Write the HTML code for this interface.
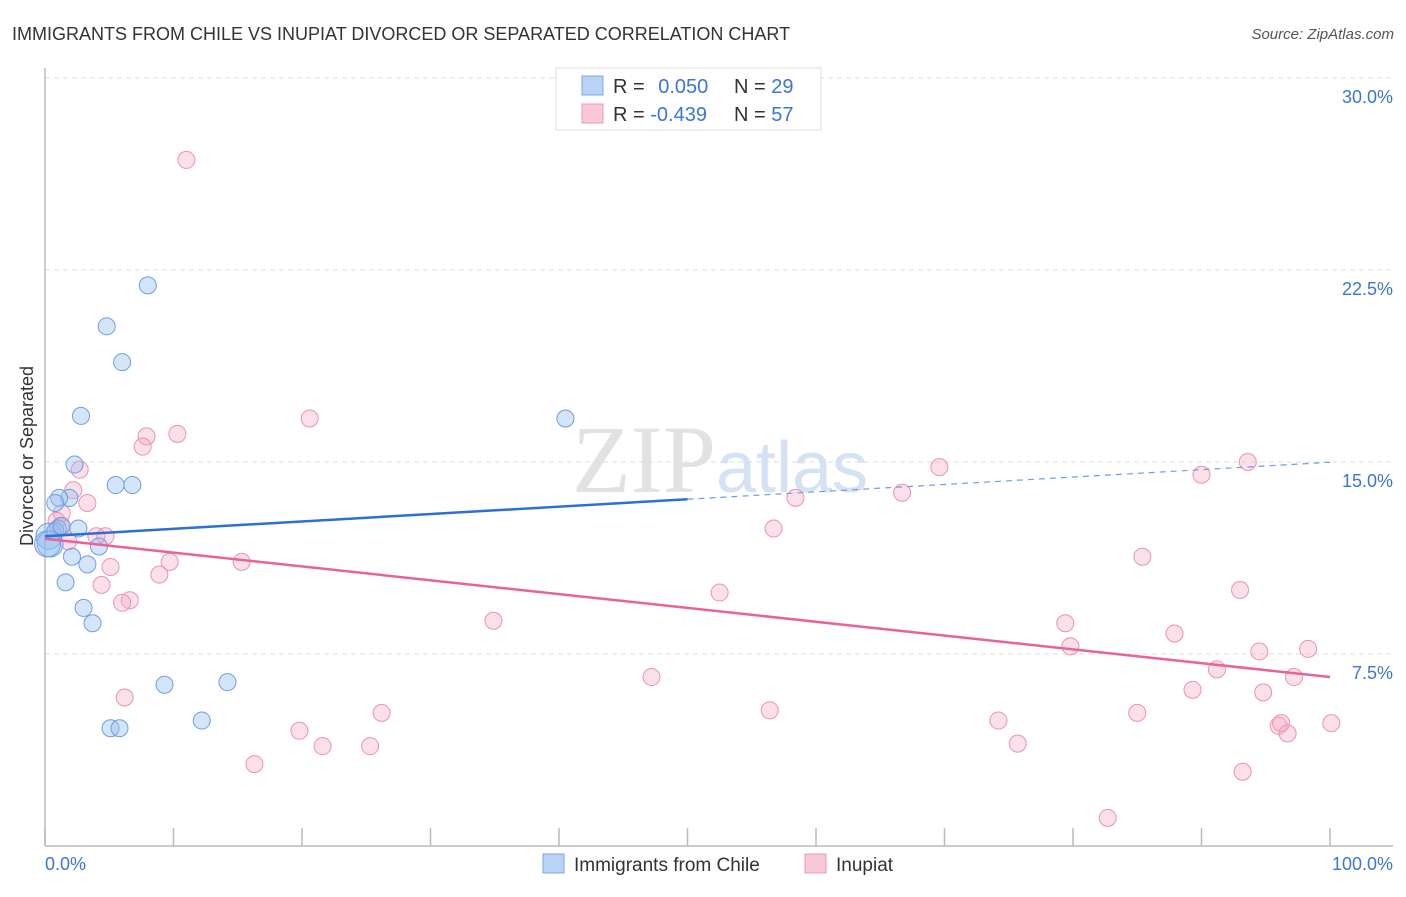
<!DOCTYPE html>
<html><head><meta charset="utf-8"><style>
body{margin:0;background:#fff;font-family:"Liberation Sans",sans-serif}
svg text{font-family:"Liberation Sans",sans-serif}
</style></head><body>
<svg id="chart" width="1406" height="892" xmlns="http://www.w3.org/2000/svg">
<text x="12" y="40" font-size="18" fill="#333">IMMIGRANTS FROM CHILE VS INUPIAT DIVORCED OR SEPARATED CORRELATION CHART</text>
<text x="1394" y="39" font-size="15" fill="#555" font-style="italic" text-anchor="end">Source: ZipAtlas.com</text>
<text x="33" y="456" font-size="18" fill="#333" text-anchor="middle" transform="rotate(-90 33 456)">Divorced or Separated</text>
<text x="720" y="492" font-size="96" fill="#e2e2e2" text-anchor="middle" font-family="Liberation Serif"><tspan font-family="Liberation Serif">ZIP</tspan><tspan fill="#d4e2f4" font-size="72" font-family="Liberation Sans">atlas</tspan></text>
<g id="grid"></g><g id="axes"></g><g id="pts"></g><g id="trend"></g>
<g>
<rect x="556" y="68" width="265" height="62" fill="#fff" stroke="#ddd"/>
<rect x="582" y="76" width="21" height="19" fill="#b8d3f5" stroke="#7aa7e6"/>
<rect x="582" y="104" width="21" height="19" fill="#f9c8d7" stroke="#eb9ab5"/>
<text x="613" y="93" font-size="20" fill="#333">R = <tspan fill="#3a76d6" dx="8">0.050</tspan></text>
<text x="734" y="93" font-size="20" fill="#333">N = <tspan fill="#3a76d6">29</tspan></text>
<text x="613" y="121" font-size="20" fill="#333">R = <tspan fill="#3a76d6">-0.439</tspan></text>
<text x="734" y="121" font-size="20" fill="#333">N = <tspan fill="#3a76d6">57</tspan></text>
</g>
<g>
<rect x="543" y="854" width="21" height="19" fill="#b8d3f5" stroke="#7aa7e6"/>
<text x="574" y="871" font-size="19" fill="#333">Immigrants from Chile</text>
<rect x="805" y="854" width="21" height="19" fill="#f9c8d7" stroke="#eb9ab5"/>
<text x="836" y="871" font-size="19" fill="#333">Inupiat</text>
</g>
</svg>
<script>
const yTicks=[7.5,15,22.5,30];
const yTickLabels=["7.5%","15.0%","22.5%","30.0%"];
const blueX=[8.0,4.8,6.0,2.8,40.5,2.3,5.5,6.8,1.9,1.1,0.8,2.6,1.0,0.3,0.4,0.2,4.2,2.1,3.3,1.6,3.0,3.7,9.3,14.2,12.2,5.1,5.8,0.8,1.3];
const blueY=[21.9,20.3,18.9,16.8,16.7,14.9,14.1,14.1,13.6,13.6,13.4,12.4,12.4,12.1,11.8,11.8,11.7,11.3,11.0,10.3,9.3,8.7,6.3,6.4,4.9,4.6,4.6,12.3,12.5];
const pinkX=[11.0,20.6,10.3,7.9,7.6,2.7,2.2,3.3,1.3,0.9,1.2,4.0,4.7,1.8,5.1,9.7,8.9,15.3,4.4,6.6,6.0,6.2,19.8,21.6,25.3,26.2,16.3,34.9,47.2,52.5,56.4,56.7,58.4,66.7,69.6,74.2,75.7,79.4,79.8,82.7,85.0,85.4,87.9,89.3,90.0,91.2,93.0,93.2,93.6,94.5,94.8,96.0,96.2,96.7,97.2,98.3,100.1];
const pinkY=[26.8,16.7,16.1,16.0,15.6,14.7,13.9,13.4,13.0,12.7,12.5,12.1,12.1,11.9,10.9,11.1,10.6,11.1,10.2,9.6,9.5,5.8,4.5,3.9,3.9,5.2,3.2,8.8,6.6,9.9,5.3,12.4,13.6,13.8,14.8,4.9,4.0,8.7,7.8,1.1,5.2,11.3,8.3,6.1,14.5,6.9,10.0,2.9,15.0,7.6,6.0,4.7,4.8,4.4,6.6,7.7,4.8];
const blueTrend=[12.1,14.99];
const pinkTrend=[12.0,6.6];
const NS="http://www.w3.org/2000/svg";
const X=v=>45+v*12.85, Y=v=>846-v*25.6;
function mk(tag,attrs,parent){const e=document.createElementNS(NS,tag);for(const k in attrs)e.setAttribute(k,attrs[k]);document.getElementById(parent).appendChild(e);return e;}
yTicks.forEach((t,i)=>{
 const g=mk('line',{x1:45,x2:1393,y1:Y(t),y2:Y(t),stroke:'#ddd','stroke-dasharray':'5,4'},'grid');
 
 
 const l=mk('text',{x:1393,y:Y(t)+25,'font-size':18,fill:'#3a76d6','text-anchor':'end'},'grid');
 l.textContent=yTickLabels[i];
 
 
});
const ax=mk('line',{x1:45,x2:1393,y1:846,y2:846,stroke:'#bbb','stroke-width':1.5},'axes');


const ay=mk('line',{x1:45,x2:45,y1:68,y2:846,stroke:'#bbb','stroke-width':1.5},'axes');


for(let i=0;i<=10;i++){const t=mk('line',{x1:X(i*10),x2:X(i*10),y1:828,y2:846,stroke:'#bbb','stroke-width':1.5},'axes');
 
 }
const l0=mk('text',{x:45,y:870,'font-size':18,fill:'#3a76d6'},'axes');l0.textContent='0.0%';


const l1=mk('text',{x:1393,y:870,'font-size':18,fill:'#3a76d6','text-anchor':'end'},'axes');l1.textContent='100.0%';


pinkX.forEach((x,i)=>{const c=mk('circle',{cx:X(x),cy:Y(pinkY[i]),r:8.5,fill:'rgba(245,165,192,0.35)',stroke:'#eb92b2','stroke-width':1},'pts');
 
 });
blueX.forEach((x,i)=>{const c=mk('circle',{cx:X(x),cy:Y(blueY[i]),r:(x<0.5?13:8.5),fill:'rgba(150,190,240,0.4)',stroke:'#6d9fe2','stroke-width':1},'pts');
 
 });
const bm=blueTrend[0]+(blueTrend[1]-blueTrend[0])*0.5;
const b1=mk('line',{x1:X(0),y1:Y(blueTrend[0]),x2:X(50),y2:Y(bm),stroke:'#2c6fd6','stroke-width':2.5},'trend');


const b2=mk('line',{x1:X(50),y1:Y(bm),x2:X(100),y2:Y(blueTrend[1]),stroke:'#6d9fe2','stroke-width':1.2,'stroke-dasharray':'6,5'},'trend');


const p1=mk('line',{x1:X(0),y1:Y(pinkTrend[0]),x2:X(100),y2:Y(pinkTrend[1]),stroke:'#e8639a','stroke-width':2.5},'trend');


</script>
</body></html>
